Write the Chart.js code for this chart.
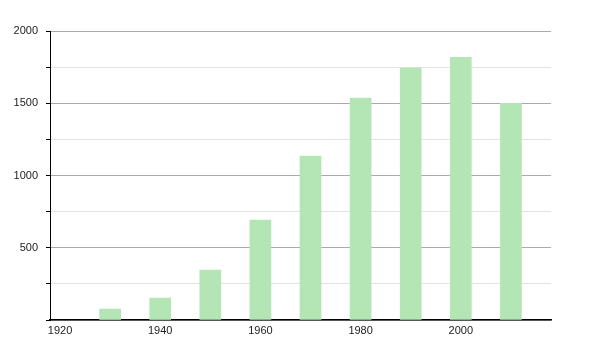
<!DOCTYPE html>
<html>
<head>
<meta charset="utf-8">
<script src="https://cdn.jsdelivr.net/npm/chart.js@4/dist/chart.umd.min.js"></script>
<style>
  html, body { margin: 0; padding: 0; background: #fff; }
  #wrap { width: 600px; height: 350px; position: relative; }
</style>
</head>
<body>
<div id="wrap"><canvas id="chart"></canvas></div>
<script>
// data
const years = [1930, 1940, 1950, 1960, 1970, 1980, 1990, 2000, 2010];
const values = [76, 152, 346, 692, 1135, 1536, 1744, 1818, 1500];
const xTickLabels = [1920, 1940, 1960, 1980, 2000];
const yTickValues = [0, 250, 500, 750, 1000, 1250, 1500, 1750, 2000];
const yLabelled = [500, 1000, 1500, 2000];

const ctx = document.getElementById('chart').getContext('2d');

new Chart(ctx, {
  type: 'bar',
  data: {
    datasets: [{
      data: years.map((y, i) => ({ x: y, y: values[i] })),
      backgroundColor: '#b3e5b5',
      borderWidth: 0,
      barThickness: 21
    }]
  },
  options: {
    responsive: true,
    maintainAspectRatio: false,
    animation: false,
    layout: { padding: { top: 31, right: 49, left: 0, bottom: 0 } },
    plugins: { legend: { display: false }, tooltip: { enabled: false } },
    scales: {
      x: {
        type: 'linear',
        offset: false,
        min: 1918,
        max: 2018,
        afterBuildTicks: (scale) => { scale.ticks = xTickLabels.map(v => ({ value: v })); },
        afterFit: (scale) => { scale.height = 30; },
        grid: { display: false, drawTicks: false, offset: false },
        border: { color: '#000', width: 1.5 },
        ticks: {
          padding: 4,
          color: '#222',
          font: { family: 'Liberation Sans', size: 11 },
          maxRotation: 0,
          autoSkip: false,
          callback: (v) => String(v)
        }
      },
      y: {
        min: 0,
        max: 2000,
        afterBuildTicks: (scale) => { scale.ticks = yTickValues.map(v => ({ value: v })); },
        afterFit: (scale) => { scale.width = 50; },
        grid: {
          color: (c) => (c.tick && c.tick.value % 500 === 0) ? '#aaaaaa' : '#e2e2e2',
          tickColor: '#000',
          tickLength: 4,
          lineWidth: 1
        },
        border: { color: '#000', width: 1 },
        ticks: {
          padding: 8,
          color: '#222',
          font: { family: 'Liberation Sans', size: 11 },
          autoSkip: false,
          callback: (v) => yLabelled.includes(v) ? String(v) : ''
        }
      }
    }
  }
});
</script>
</body>
</html>
